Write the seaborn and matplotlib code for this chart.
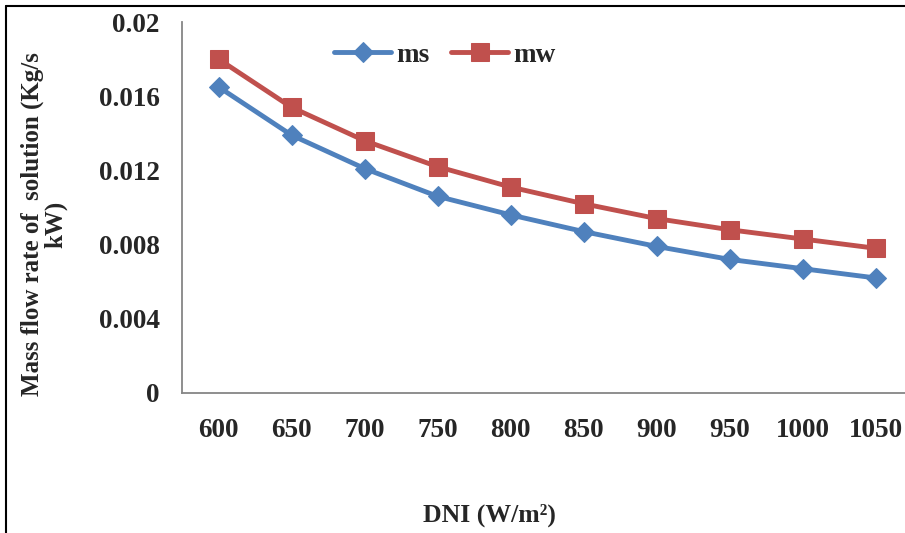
import numpy as np
import pandas as pd
import matplotlib
matplotlib.use("Agg")
import matplotlib.pyplot as plt
from matplotlib.lines import Line2D
import seaborn as sns

# data
dni = [600, 650, 700, 750, 800, 850, 900, 950, 1000, 1050]
ms = [0.0165, 0.0139, 0.0121, 0.0106, 0.0096, 0.0087, 0.0079, 0.0072, 0.0067, 0.0062]
mw = [0.0180, 0.0154, 0.0136, 0.0122, 0.0111, 0.0102, 0.0094, 0.0088, 0.0083, 0.0078]
y_ticks = [0, 0.004, 0.008, 0.012, 0.016, 0.02]
y_labels = ["0", "0.004", "0.008", "0.012", "0.016", "0.02"]

df = pd.DataFrame({
    "DNI": dni * 2,
    "value": ms + mw,
    "series": ["ms"] * len(dni) + ["mw"] * len(dni),
})

sns.set_style("white")
plt.rcParams["font.family"] = ["Liberation Serif", "DejaVu Serif"]
plt.rcParams["font.weight"] = "bold"

fig = plt.figure(figsize=(9.05, 5.33), dpi=100)
ax = fig.add_axes([182 / 905, 1 - 393 / 533, (912.5 - 182) / 905, (393 - 22) / 533])

palette = {"ms": "#4F81BD", "mw": "#C0504D"}
markers = {"ms": "D", "mw": "s"}
sizes = {"ms": 10.5, "mw": 13.5}

for name in ["ms", "mw"]:
    sub = df[df["series"] == name]
    sns.lineplot(data=sub, x="DNI", y="value", ax=ax, color=palette[name],
                 marker=markers[name], markersize=sizes[name],
                 markeredgecolor=palette[name], linewidth=3.5, label=name)

ax.set_xlim(575, 1075)
ax.set_ylim(0, 0.02)
ax.set_xticks(dni)
ax.set_xticklabels([str(v) for v in dni])
ax.set_yticks(y_ticks)
ax.set_yticklabels(y_labels)
ax.tick_params(axis="both", length=0, labelsize=19.5)
ax.tick_params(axis="y", pad=16)
ax.tick_params(axis="x", pad=18)
for lab in ax.get_xticklabels() + ax.get_yticklabels():
    lab.set_fontweight("bold")
ax.set_xlabel("")
ax.set_ylabel("")

for side in ["top", "right"]:
    ax.spines[side].set_visible(False)
for side in ["left", "bottom"]:
    ax.spines[side].set_color("#868686")
    ax.spines[side].set_linewidth(1.3)

leg = ax.legend(loc="center", bbox_to_anchor=(445 / 905, 1 - 55 / 533),
                bbox_transform=fig.transFigure, ncol=2, frameon=False,
                prop={"size": 19.5, "weight": "bold"}, handlelength=2.1,
                handletextpad=0.2, columnspacing=0.8)

fig.text(44 / 905, 1 - 224 / 533, "Mass flow rate of  solution (Kg/s\nkW)",
         rotation=90, ha="center", va="center", multialignment="center",
         fontsize=18, fontweight="bold", linespacing=1.0)
fig.text(489 / 905, 1 - 515 / 533, "DNI (W/m\u00b2)", ha="center",
         va="center", fontsize=18.5, fontweight="bold")

# outer frame of the chart area (left and top edges visible)
fig.add_artist(Line2D([6 / 905, 6 / 905], [0, 1 - 6 / 533], transform=fig.transFigure,
                      color="black", linewidth=1.5))
fig.add_artist(Line2D([6 / 905, 1], [1 - 6 / 533, 1 - 6 / 533], transform=fig.transFigure,
                      color="black", linewidth=1.5))

fig.savefig("out.png", dpi=100)
